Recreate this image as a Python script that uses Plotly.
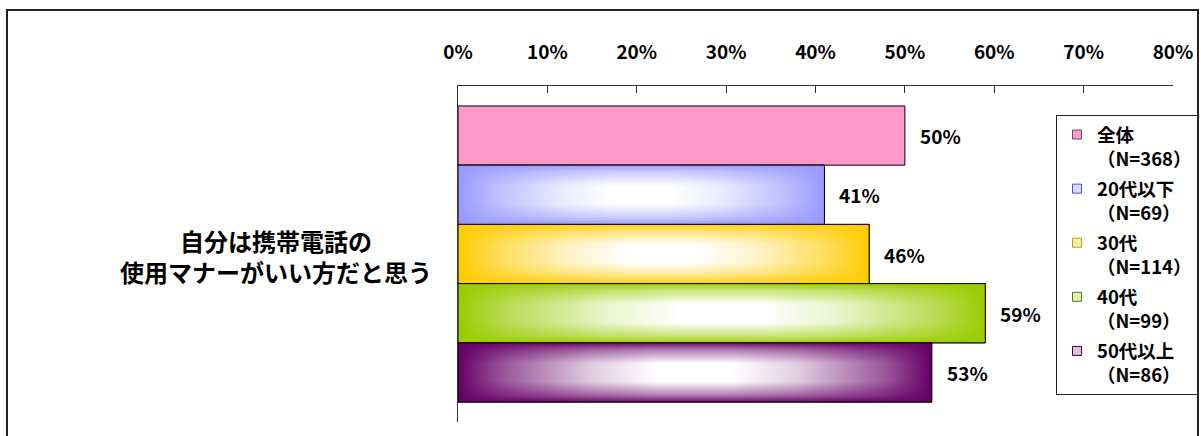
import plotly.graph_objects as go

# ---- data ----
question = ["自分は携帯電話の<br>使用マナーがいい方だと思う"]
groups = ["全体", "20代以下", "30代", "40代", "50代以上"]
sample_sizes = [368, 69, 114, 99, 86]
shares = [50, 41, 46, 59, 53]            # percent
x_ticks = [0, 10, 20, 30, 40, 50, 60, 70, 80]

# ---- styles ----
base_colors = ["#FF99CC", "#9999FF", "#FFCC00", "#99CC00", "#660066"]
shaded = [False, True, True, True, True]
legend_fill = ["#FF99CC", "#DCDCFF", "#FFEDB0", "#E2F0B8", "#D8C4D8"]
legend_edge = ["#555555", "#5050C0", "#C89A00", "#5A7A00", "#4A004A"]

FONT = "Noto Sans CJK JP"
AXIS_COLOR = "#333333"
W, H = 1201, 436
L, R, T, B = 458, 28, 86, 14
PAD = 0.337                              # empty band above/below the bars, in bar heights


def hex_rgb(h):
    h = h.lstrip("#")
    return tuple(int(h[k:k + 2], 16) for k in (0, 2, 4))


def mix(h, t):
    """Blend colour h toward white by fraction t."""
    r, g, b = hex_rgb(h)
    return "rgb(%d,%d,%d)" % (r + (255 - r) * t, g + (255 - g) * t, b + (255 - b) * t)


def rgba(h, a):
    r, g, b = hex_rgb(h)
    return "rgba(%d,%d,%d,%.3f)" % (r, g, b, a)


fig = go.Figure()

# solid bars (base layer)
for i, (g, v, c) in enumerate(zip(groups, shares, base_colors)):
    fig.add_trace(go.Bar(
        x=[v], y=[i], width=[1], orientation="h",
        marker=dict(color=c, line=dict(color="black", width=1)),
        showlegend=False, hoverinfo="skip", name=g,
    ))

# light "glow" shading over the coloured bars
for i, (v, c, s) in enumerate(zip(shares, base_colors, shaded)):
    if not s:
        continue
    xs = [0, v, v, 0, 0]
    ys = [i - 0.5, i - 0.5, i + 0.5, i + 0.5, i - 0.5]
    fig.add_trace(go.Scatter(
        x=xs, y=ys, mode="lines", fill="toself", line=dict(width=0),
        fillgradient=dict(
            type="horizontal", start=0, stop=v,
            colorscale=[[0, c], [0.1, mix(c, 0.35)], [0.28, mix(c, 0.8)],
                        [0.42, "white"], [0.58, "white"], [0.72, mix(c, 0.8)],
                        [0.9, mix(c, 0.35)], [1, c]],
        ),
        showlegend=False, hoverinfo="skip",
    ))
    fig.add_trace(go.Scatter(
        x=xs, y=ys, mode="lines", fill="toself",
        line=dict(width=1, color="black"),
        fillgradient=dict(
            type="vertical", start=i - 0.5, stop=i + 0.5,
            colorscale=[[0, rgba(c, 0.95)], [0.12, rgba(c, 0.5)], [0.35, rgba(c, 0.0)],
                        [0.65, rgba(c, 0.0)], [0.88, rgba(c, 0.5)], [1, rgba(c, 0.95)]],
        ),
        showlegend=False, hoverinfo="skip",
    ))

# legend entries
for i, (g, n) in enumerate(zip(groups, sample_sizes)):
    fig.add_trace(go.Scatter(
        x=[None], y=[None], mode="markers", name=f"{g}<br>（N={n}）",
        legendgroup=g,
        marker=dict(symbol="square", size=9, color=legend_fill[i],
                    line=dict(color=legend_edge[i], width=1)),
    ))

# value labels
for i, v in enumerate(shares):
    fig.add_annotation(
        x=v, y=i, xref="x", yref="y", text=f"{v}%", showarrow=False,
        xanchor="left", xshift=13,
        font=dict(family=FONT, size=19, color="black", weight="bold"),
    )

# category label
n_bars = len(groups)
fig.add_annotation(
    x=0, y=(n_bars - 1) / 2, xref="paper", yref="y", text=question[0],
    showarrow=False, xanchor="right", xshift=-24, yshift=-2, align="center",
    font=dict(family=FONT, size=24, color="black", weight="bold"),
)

# outer frame
pw, ph = W - L - R, H - T - B
fig.add_shape(
    type="rect", xref="paper", yref="paper",
    x0=(7 - L) / pw, x1=(1198 - L) / pw,
    y0=(H - B - 445) / ph, y1=(H - B - 10) / ph,
    line=dict(color="#222222", width=2), fillcolor="rgba(0,0,0,0)", layer="above",
)

y_lo, y_hi = -0.5 - PAD, n_bars - 0.5 + PAD

fig.update_layout(
    width=W, height=H,
    margin=dict(l=L, r=R, t=T, b=B, autoexpand=False),
    paper_bgcolor="white", plot_bgcolor="white",
    font=dict(family=FONT, color="black"),
    hovermode=False,
    barmode="overlay",
    showlegend=True,
    legend=dict(
        x=(1056 - L) / pw, y=(H - B - 115) / ph, xanchor="left", yanchor="top",
        bgcolor="white", bordercolor="#222222", borderwidth=1,
        font=dict(family=FONT, size=18.5, color="black", weight="bold"),
        tracegroupgap=3, valign="top", itemwidth=30,
    ),
    xaxis=dict(
        range=[x_ticks[0], x_ticks[-1]], side="top",
        tickvals=x_ticks, ticktext=[f"{t}%" for t in x_ticks],
        ticks="inside", ticklen=7, tickcolor=AXIS_COLOR, tickwidth=1,
        showline=True, linecolor=AXIS_COLOR, linewidth=1,
        showgrid=False, zeroline=False, ticklabelstandoff=18,
        tickfont=dict(family=FONT, size=19, color="black", weight="bold"),
    ),
    yaxis=dict(
        range=[y_hi, y_lo],
        tickvals=[y_lo + 1e-6, y_hi - 1e-6], ticks="inside", ticklen=7,
        tickcolor=AXIS_COLOR, showticklabels=False,
        showline=True, linecolor=AXIS_COLOR, linewidth=1,
        showgrid=False, zeroline=False,
    ),
)

fig.write_html("out.html")
